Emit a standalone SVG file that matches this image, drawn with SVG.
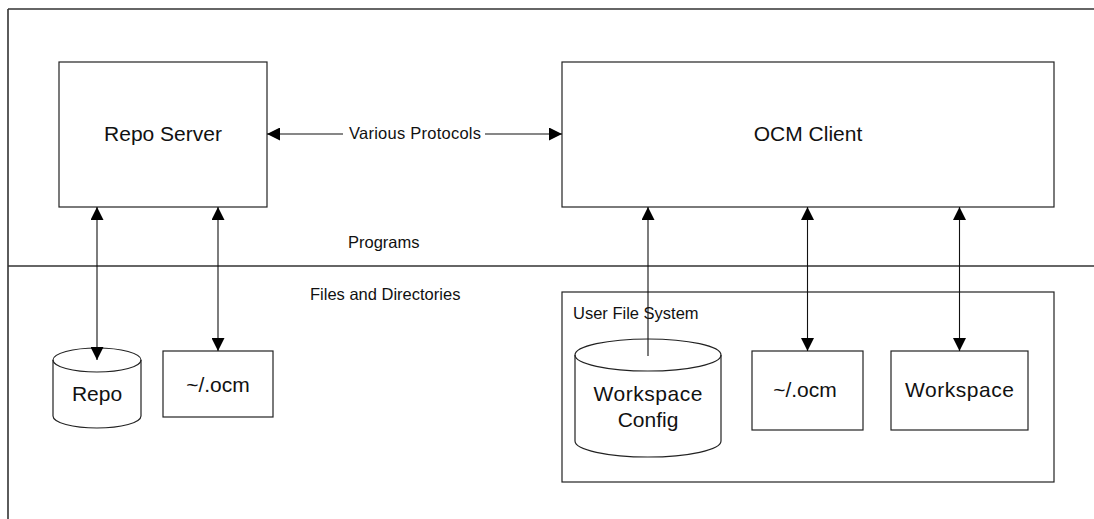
<svg xmlns="http://www.w3.org/2000/svg" width="1094" height="519" viewBox="0 0 1094 519">
<style>
  .box { fill: #ffffff; stroke: #222222; stroke-width: 1.2; }
  .frame { fill: none; stroke: #333333; stroke-width: 1.6; }
  .conn { fill: none; stroke: #111111; stroke-width: 1.1; }
  .big { font-family: "Liberation Sans", Arial, sans-serif; font-size: 21px; fill: #111111; text-anchor: middle; }
  .small { font-family: "Liberation Sans", Arial, sans-serif; font-size: 16.5px; fill: #111111; }
</style>
<defs>
  <marker id="ah" viewBox="0 0 13 13" refX="13" refY="6.5" markerWidth="13" markerHeight="13" markerUnits="userSpaceOnUse" orient="auto-start-reverse">
    <path d="M0,0 L13,6.5 L0,13 Z" fill="#000000"/>
  </marker>
</defs>
<rect x="0" y="0" width="1094" height="519" fill="#ffffff"/>
<g id="frame">
  <line class="frame" x1="8" y1="9" x2="1094" y2="9"/>
  <line class="frame" x1="8" y1="9" x2="8" y2="519"/>
  <line class="frame" x1="8" y1="266" x2="1094" y2="266"/>
  <text class="small" x="348" y="248">Programs</text>
  <text class="small" x="310" y="300">Files and Directories</text>
</g>
<g id="user-file-system">
  <rect class="box" x="562" y="292" width="492" height="190"/>
  <text class="small" x="573" y="319">User File System</text>
</g>
<g id="repo-server">
  <rect class="box" x="59" y="62" width="208" height="145"/>
  <text class="big" x="163" y="141">Repo Server</text>
</g>
<g id="ocm-client">
  <rect class="box" x="562" y="62" width="492" height="145"/>
  <text class="big" x="808" y="141">OCM Client</text>
</g>
<g id="repo">
  <path class="box" d="M53,360 A44,12 0 0 1 141,360 L141,416 A44,12 0 0 1 53,416 Z"/>
  <path class="box" style="fill:none" d="M53,360 A44,12 0 0 0 141,360"/>
  <text class="big" x="97" y="401">Repo</text>
</g>
<g id="ocm-dir-server">
  <rect class="box" x="163" y="351" width="110" height="66"/>
  <text class="big" x="218" y="392">~/.ocm</text>
</g>
<g id="workspace-config">
  <path class="box" d="M575,355 A73,16 0 0 1 721,355 L721,441 A73,16 0 0 1 575,441 Z"/>
  <path class="box" style="fill:none" d="M575,355 A73,16 0 0 0 721,355"/>
  <text class="big" x="648" y="401" textLength="109">Workspace</text>
  <text class="big" x="648" y="427">Config</text>
</g>
<g id="ocm-dir-client">
  <rect class="box" x="752" y="351" width="111" height="79"/>
  <text class="big" x="805" y="397">~/.ocm</text>
</g>
<g id="workspace">
  <rect class="box" x="891" y="351" width="137" height="79"/>
  <text class="big" x="959.5" y="397" textLength="109">Workspace</text>
</g>
<g id="connectors">
  <line class="conn" x1="343" y1="134" x2="267" y2="134" marker-end="url(#ah)"/>
  <line class="conn" x1="485" y1="134" x2="562" y2="134" marker-end="url(#ah)"/>
  <text class="small" x="349" y="139" textLength="132">Various Protocols</text>
  <line class="conn" x1="97" y1="207" x2="97" y2="360" marker-start="url(#ah)" marker-end="url(#ah)"/>
  <line class="conn" x1="218" y1="207" x2="218" y2="351" marker-start="url(#ah)" marker-end="url(#ah)"/>
  <line class="conn" x1="648" y1="356" x2="648" y2="207" marker-end="url(#ah)"/>
  <line class="conn" x1="807.5" y1="207" x2="807.5" y2="351" marker-start="url(#ah)" marker-end="url(#ah)"/>
  <line class="conn" x1="959.5" y1="207" x2="959.5" y2="351" marker-start="url(#ah)" marker-end="url(#ah)"/>
</g>
</svg>
